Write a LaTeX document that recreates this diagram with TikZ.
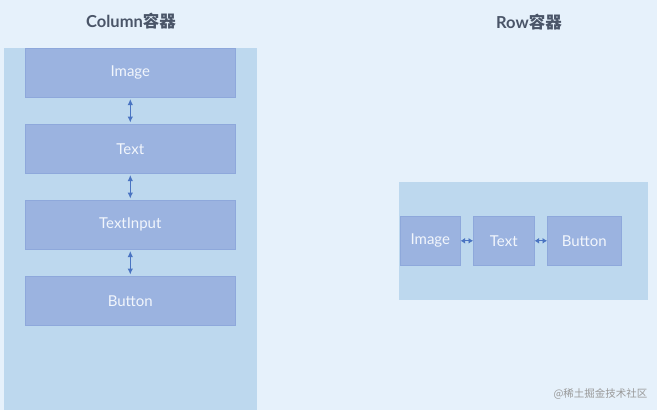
\documentclass[tikz,border=0pt]{standalone}
\usepackage{fontspec}
\setmainfont{Lato}
\newfontfamily\cjk{Noto Sans CJK SC}
\newfontfamily\cjkbold{Noto Sans CJK SC Bold}
\usetikzlibrary{arrows.meta}
\definecolor{bgc}{HTML}{E6F1FB}
\definecolor{contc}{HTML}{BDD8EE}
\definecolor{boxc}{HTML}{9BB3E0}
\definecolor{boxb}{HTML}{8EA8DB}
\definecolor{arrc}{HTML}{4A74C2}
\definecolor{titc}{HTML}{4A5568}
\definecolor{txtc}{HTML}{F2F6FC}
\tikzset{
  elem/.style={draw=boxb, fill=boxc, line width=0.6pt, text=txtc, font=\fontsize{15}{17}\selectfont, inner sep=0pt, anchor=north west},
  link/.style={draw=arrc, line width=1pt, shorten >=1.5pt, shorten <=1.5pt, {Latex[length=6pt,width=5.5pt]}-{Latex[length=6pt,width=5.5pt]}},
  rlink/.style={draw=arrc, line width=1.2pt, {Latex[length=4.5pt,width=6pt]}-{Latex[length=4.5pt,width=6pt]}},
  title/.style={text=titc, font=\bfseries\fontsize{16.5}{19}\selectfont},
}
\begin{document}
\begin{tikzpicture}[x=1pt,y=-1pt]
\fill[bgc] (0,0) rectangle (657,410);
\useasboundingbox (0,0) rectangle (657,410);
% column container
\fill[contc] (4,48) rectangle (257,410);
\node[title] (ct) at (131,21) {Column{\cjkbold 容器}};
\node[elem, minimum width=210pt, minimum height=49pt] (c1) at (25,48) {Image};
\node[elem, minimum width=210pt, minimum height=49pt] (c2) at (25,124) {Text};
\node[elem, minimum width=210pt, minimum height=49pt] (c3) at (25,200) {TextInput};
\node[elem, minimum width=210pt, minimum height=49pt] (c4) at (25,276) {Button};
\draw[link] (c1.south) -- (c2.north);
\draw[link] (c2.south) -- (c3.north);
\draw[link] (c3.south) -- (c4.north);
% row container
\fill[contc] (399,182) rectangle (648,300);
\node[title] (rt) at (529,22) {Row{\cjkbold 容器}};
\node[elem, minimum width=60pt, minimum height=49pt] (r1) at (400,216) {Image};
\node[elem, minimum width=61pt, minimum height=49pt] (r2) at (473,216) {Text};
\node[elem, minimum width=74pt, minimum height=49pt] (r3) at (547,216) {Button};
\draw[rlink] (r1.east) -- (r2.west);
\draw[rlink] (r2.east) -- (r3.west);
% watermark
\node[text=black!40, font=\cjk\fontsize{10.5}{12}\selectfont, anchor=east] (wm) at (651,394) {@稀土掘金技术社区};
\end{tikzpicture}
\end{document}
